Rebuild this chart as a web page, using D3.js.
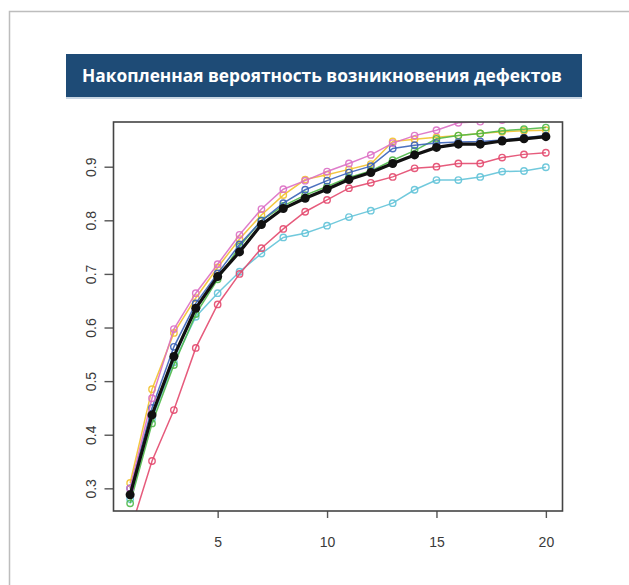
<!DOCTYPE html>
<html lang="ru">
<head>
    <meta charset="UTF-8">
    <title>Накопленная вероятность возникновения дефектов</title>
    <script src="https://d3js.org/d3.v7.min.js"></script>
</head>
<style>
    body{
        margin: 0;
        background-color: #ffffff;
    }
</style>
<body>
    <script>
    // x positions (steps) and y tick values
    const steps = [1, 2, 3, 4, 5, 6, 7, 8, 9, 10, 11, 12, 13, 14, 15, 16, 17, 18, 19, 20];
    const xTicks = [5, 10, 15, 20];
    const yTicks = [0.3, 0.4, 0.5, 0.6, 0.7, 0.8, 0.9];

    // series values
    const magenta = [0.300, 0.468, 0.597, 0.664, 0.718, 0.773, 0.821, 0.858, 0.874, 0.891, 0.906, 0.922, 0.944, 0.958, 0.968, 0.982, 0.984, 0.987, 0.990, 0.995];
    const yellow  = [0.310, 0.485, 0.590, 0.655, 0.712, 0.765, 0.810, 0.847, 0.876, 0.885, 0.895, 0.905, 0.947, 0.951, 0.955, 0.958, 0.962, 0.965, 0.967, 0.968];
    const green   = [0.272, 0.421, 0.530, 0.625, 0.690, 0.751, 0.800, 0.827, 0.847, 0.863, 0.880, 0.892, 0.912, 0.930, 0.952, 0.958, 0.962, 0.967, 0.970, 0.973];
    const blue    = [0.300, 0.450, 0.564, 0.645, 0.701, 0.755, 0.799, 0.832, 0.857, 0.874, 0.889, 0.901, 0.934, 0.940, 0.944, 0.946, 0.947, 0.950, 0.954, 0.958];
    const red     = [0.220, 0.351, 0.446, 0.562, 0.643, 0.700, 0.748, 0.784, 0.816, 0.838, 0.860, 0.870, 0.881, 0.897, 0.900, 0.906, 0.906, 0.917, 0.923, 0.926];
    const cyan    = [0.280, 0.430, 0.535, 0.620, 0.664, 0.704, 0.738, 0.768, 0.776, 0.790, 0.806, 0.818, 0.832, 0.857, 0.875, 0.875, 0.881, 0.891, 0.892, 0.899];
    const black   = [0.288, 0.437, 0.546, 0.636, 0.695, 0.741, 0.792, 0.822, 0.841, 0.858, 0.876, 0.889, 0.906, 0.922, 0.936, 0.942, 0.942, 0.948, 0.952, 0.956];

    const series = [
        { values: cyan, color: '#62c3d8' },
        { values: red, color: '#e3496e' },
        { values: yellow, color: '#f2c12e' },
        { values: green, color: '#4fb848' },
        { values: blue, color: '#3a62b8' },
        { values: magenta, color: '#dc6fc4' }
    ];

    const width = 629;
    const height = 585;
    const plot = { left: 113.5, right: 562.5, top: 122, bottom: 511 };

    const svg = d3.select('body')
        .append('svg')
        .attr('width', width)
        .attr('height', height);

    // outer frame
    svg.append('rect')
        .attr('x', 9.5)
        .attr('y', 11.5)
        .attr('width', 700)
        .attr('height', 700)
        .attr('fill', 'none')
        .attr('stroke', '#bdbdbd')
        .attr('stroke-width', 1.5);

    // title banner
    svg.append('rect')
        .attr('x', 66)
        .attr('y', 54)
        .attr('width', 516)
        .attr('height', 43)
        .attr('fill', '#1e4b76');

    svg.append('rect')
        .attr('x', 66)
        .attr('y', 97)
        .attr('width', 516)
        .attr('height', 2)
        .attr('fill', '#c9d6e3');

    const title = svg.append('text')
        .attr('x', 322)
        .attr('y', 81.5)
        .attr('text-anchor', 'middle')
        .attr('font-family', 'Open Sans')
        .attr('font-weight', 'bold')
        .attr('font-size', 17)
        .attr('fill', '#ffffff')
        .text('Накопленная вероятность возникновения дефектов');

    // squeeze the title into the width seen in the picture
    const tw = title.node().getComputedTextLength();
    if (tw > 0) title.attr('font-size', 17 * 480 / tw);

    const xScale = d3.scaleLinear()
        .domain([0.24, 20.76])
        .range([plot.left, plot.right]);

    const yScale = d3.scaleLinear()
        .domain([0.2577, 0.9834])
        .range([plot.bottom, plot.top]);

    svg.append('clipPath')
        .attr('id', 'plot-clip')
        .append('rect')
        .attr('x', plot.left)
        .attr('y', plot.top)
        .attr('width', plot.right - plot.left)
        .attr('height', plot.bottom - plot.top);

    const chart = svg.append('g').attr('clip-path', 'url(#plot-clip)');

    const line = d3.line()
        .x((d, i) => xScale(steps[i]))
        .y(d => yScale(d));

    series.forEach(s => {
        chart.append('path')
            .datum(s.values)
            .attr('d', line)
            .attr('fill', 'none')
            .attr('stroke', s.color)
            .attr('stroke-width', 1.5)
            .attr('stroke-opacity', 0.9);

        chart.selectAll(null)
            .data(s.values)
            .enter()
            .append('circle')
            .attr('cx', (d, i) => xScale(steps[i]))
            .attr('cy', d => yScale(d))
            .attr('r', 3.2)
            .attr('fill', 'none')
            .attr('stroke', s.color)
            .attr('stroke-width', 1.4)
            .attr('stroke-opacity', 0.9);
    });

    // main series on top
    chart.append('path')
        .datum(black)
        .attr('d', line)
        .attr('fill', 'none')
        .attr('stroke', '#111111')
        .attr('stroke-width', 3.2);

    chart.selectAll('.dot')
        .data(black)
        .enter()
        .append('circle')
        .attr('class', 'dot')
        .attr('cx', (d, i) => xScale(steps[i]))
        .attr('cy', d => yScale(d))
        .attr('r', 4.5)
        .attr('fill', '#111111');

    // X-axis
    const xAxis = svg.append('g')
        .attr('transform', `translate(0, ${plot.bottom})`)
        .call(d3.axisBottom(xScale).tickValues(xTicks).tickSize(7).tickPadding(19).tickSizeOuter(0));

    // Y-axis
    const yAxis = svg.append('g')
        .attr('transform', `translate(${plot.left}, 0)`)
        .call(d3.axisLeft(yScale).tickValues(yTicks).tickFormat(d3.format('.1f')).tickSize(9).tickSizeOuter(0));

    [xAxis, yAxis].forEach(a => {
        a.select('.domain').remove();
        a.selectAll('.tick line').attr('stroke', '#555555').attr('stroke-width', 1.4);
        a.selectAll('.tick text')
            .attr('fill', '#3a3a3a')
            .attr('font-family', 'Liberation Sans, Arial, sans-serif')
            .attr('font-size', 14);
    });

    yAxis.selectAll('.tick text')
        .attr('x', 0)
        .attr('dy', 0)
        .attr('text-anchor', 'middle')
        .attr('transform', 'translate(-23, 0) rotate(-90)')
        .attr('dominant-baseline', 'central');

    // plot box
    svg.append('rect')
        .attr('x', plot.left)
        .attr('y', plot.top)
        .attr('width', plot.right - plot.left)
        .attr('height', plot.bottom - plot.top)
        .attr('fill', 'none')
        .attr('stroke', '#444444')
        .attr('stroke-width', 1.6);
    </script>
</body>
</html>
